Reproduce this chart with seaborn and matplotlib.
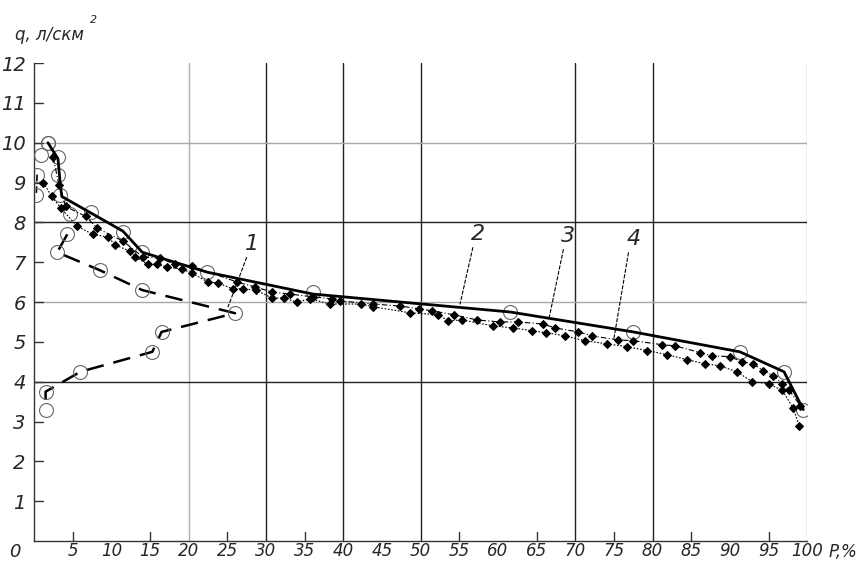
import matplotlib
matplotlib.use("Agg")
import matplotlib.pyplot as plt
import seaborn as sns

# curve 1: observed points (loop), dashed, open circles
c1_p = [1.8, 0.9, 0.4, 0.3, 4.6, 4.3, 3.0, 8.5, 14.0, 26.0, 16.5, 15.3, 6.0, 1.5, 1.5]
c1_q = [10.0, 9.7, 9.2, 8.7, 8.2, 7.7, 7.25, 6.8, 6.3, 5.72, 5.25, 4.75, 4.25, 3.75, 3.3]

# curve 2: solid, open circles on some vertices
c2_p = [1.8, 3.1, 3.4, 3.6, 11.5, 14.0, 22.4, 36.1, 61.6, 77.5, 91.3, 97.0, 99.5]
c2_q = [10.0, 9.6, 8.95, 8.65, 7.78, 7.25, 6.75, 6.2, 5.75, 5.25, 4.75, 4.25, 3.3]
c2_circ_p = [1.8, 3.1, 3.1, 3.3, 7.4, 11.5, 14.0, 22.4, 36.1, 61.6, 77.5, 91.3, 97.0, 99.5]
c2_circ_q = [10.0, 9.65, 9.2, 8.7, 8.25, 7.75, 7.25, 6.75, 6.25, 5.75, 5.25, 4.75, 4.25, 3.3]

# curve 3: dash-dot with diamonds
c3_p = [2.5, 3.2, 4.1, 6.7, 8.2, 11.5, 14.1, 16.3, 18.2, 20.4, 26.3, 28.6, 30.8, 33.1, 36.1,
        38.6, 39.6, 43.9, 47.3, 49.8, 51.5, 54.3, 57.3, 60.3, 62.6, 65.8, 67.4, 70.4, 72.2,
        75.5, 77.5, 81.2, 82.9, 86.2, 87.7, 90.0, 91.6, 93.0, 94.3, 95.6, 96.8, 97.7, 99.1]
c3_q = [9.63, 8.95, 8.4, 8.15, 7.85, 7.53, 7.13, 7.1, 6.95, 6.9, 6.5, 6.38, 6.25, 6.2, 6.13,
        6.08, 6.03, 5.95, 5.9, 5.83, 5.78, 5.68, 5.55, 5.5, 5.5, 5.45, 5.35, 5.25, 5.15,
        5.05, 5.03, 4.93, 4.9, 4.73, 4.65, 4.63, 4.5, 4.45, 4.28, 4.15, 3.95, 3.78, 3.4]

# curve 4: dotted with diamonds
c4_p = [1.2, 2.3, 3.5, 5.6, 7.6, 9.6, 10.5, 12.4, 13.1, 14.7, 15.9, 17.2, 19.1, 20.4, 22.5,
        23.8, 25.7, 27.0, 28.7, 30.8, 32.3, 34.0, 35.7, 38.3, 42.3, 43.9, 48.6, 52.3, 53.6,
        55.4, 59.4, 62.0, 64.4, 66.2, 68.7, 71.2, 74.1, 76.7, 79.3, 81.9, 84.5, 86.8, 88.7,
        90.9, 92.9, 95.0, 96.8, 98.2, 99.0]
c4_q = [9.0, 8.65, 8.35, 7.9, 7.7, 7.63, 7.43, 7.28, 7.13, 6.95, 6.95, 6.88, 6.83, 6.73, 6.5,
        6.48, 6.33, 6.33, 6.3, 6.1, 6.1, 6.0, 6.08, 5.95, 5.95, 5.88, 5.73, 5.68, 5.53,
        5.55, 5.4, 5.35, 5.28, 5.23, 5.15, 5.03, 4.95, 4.88, 4.78, 4.68, 4.55, 4.45, 4.4,
        4.25, 4.0, 3.95, 3.78, 3.33, 2.88]

# curve number labels: text position and leader end
lbl_text = ["1", "2", "3", "4"]
lbl_tx = [28.2, 57.4, 69.1, 77.5]
lbl_ty = [7.2, 7.45, 7.4, 7.32]
lbl_ex = [25.1, 55.1, 66.6, 75.0]
lbl_ey = [5.88, 5.95, 5.58, 5.08]

x_ticks = list(range(0, 101, 5))
y_ticks = list(range(1, 13))
black_vlines = [30, 40, 50, 70, 80]
gray_vlines = [20, 100]
black_hlines = [4, 8]
gray_hlines = [6, 10]
minor_xticks = [5, 15, 25, 35, 55, 65, 75, 85, 95]

sns.set_style("white")
plt.rcParams["font.family"] = ["DejaVu Sans"]
plt.rcParams["font.style"] = "italic"

fig = plt.figure(figsize=(8.61, 5.63), dpi=100)
ax = fig.add_axes([0.0395, 0.039, 0.898, 0.849])

for v in black_vlines:
    ax.axvline(v, color="#222222", lw=1.0, zorder=1)
for v in gray_vlines:
    ax.axvline(v, color="#b0b0b0", lw=1.0, zorder=1)
for h in black_hlines:
    ax.axhline(h, color="#222222", lw=1.0, zorder=1)
for h in gray_hlines:
    ax.axhline(h, color="#a8a8a8", lw=1.0, zorder=1)

# curve 1
sns.lineplot(x=c1_p[5:], y=c1_q[5:], sort=False, estimator=None, ax=ax,
             color="black", lw=1.8, dashes=(7, 4), zorder=3)
sns.lineplot(x=c1_p[2:4], y=c1_q[2:4], sort=False, estimator=None, ax=ax,
             color="black", lw=1.2, dashes=(4, 3), zorder=3)
ax.plot(c1_p, c1_q, ls="none", marker="o", ms=10, mfc="none", mec="#666666", mew=0.8, zorder=4)

# curve 2
sns.lineplot(x=c2_p, y=c2_q, sort=False, estimator=None, ax=ax,
             color="black", lw=2.0, zorder=5)
ax.plot(c2_circ_p, c2_circ_q, ls="none", marker="o", ms=10, mfc="none", mec="#666666",
        mew=0.8, zorder=4)

# curve 3
sns.lineplot(x=c3_p, y=c3_q, sort=False, estimator=None, ax=ax, color="black", lw=0.8,
             dashes=(5, 2, 1, 2), marker="D", markersize=4.5, markeredgecolor="black",
             zorder=6)
# curve 4
sns.lineplot(x=c4_p, y=c4_q, sort=False, estimator=None, ax=ax, color="black", lw=0.8,
             dashes=(1.5, 1.5), marker="D", markersize=4.5, markeredgecolor="black",
             zorder=6)

for t, tx, ty, ex, ey in zip(lbl_text, lbl_tx, lbl_ty, lbl_ex, lbl_ey):
    ax.annotate(t, xy=(ex, ey), xytext=(tx, ty), fontsize=16, ha="center", va="bottom",
                arrowprops=dict(arrowstyle="-", lw=0.8, ls=(0, (3, 2)), color="black",
                                shrinkA=0, shrinkB=0, relpos=(0.2, 0.0)))

ax.set_xlim(0, 100)
ax.set_ylim(0, 12)
ax.set_xticks(x_ticks)
ax.set_xticklabels([""] + [str(v) for v in x_ticks[1:]])
ax.set_yticks(y_ticks)
ax.set_yticklabels([str(v) for v in y_ticks])
ax.tick_params(axis="x", length=0, labelsize=12, pad=1)
ax.tick_params(axis="y", length=0, labelsize=14, pad=6)
for v in minor_xticks:
    ax.plot([v, v], [0, 0.22], color="#333333", lw=1.0, zorder=2)
for v in y_ticks:
    ax.plot([0, 1.1], [v, v], color="#333333", lw=1.0, zorder=2)

for s in ["top", "right"]:
    ax.spines[s].set_visible(False)
for s in ["left", "bottom"]:
    ax.spines[s].set_color("#333333")
    ax.spines[s].set_linewidth(1.0)

fig.text(0.011, 0.003, "0", fontsize=13, ha="left", va="bottom")
fig.text(0.962, 0.003, "P,%", fontsize=12, ha="left", va="bottom")
fig.text(0.018, 0.922, "q, л/скм", fontsize=12, ha="left", va="bottom")
fig.text(0.104, 0.955, "2", fontsize=8, ha="left", va="bottom")

fig.savefig("out.png", dpi=100)
